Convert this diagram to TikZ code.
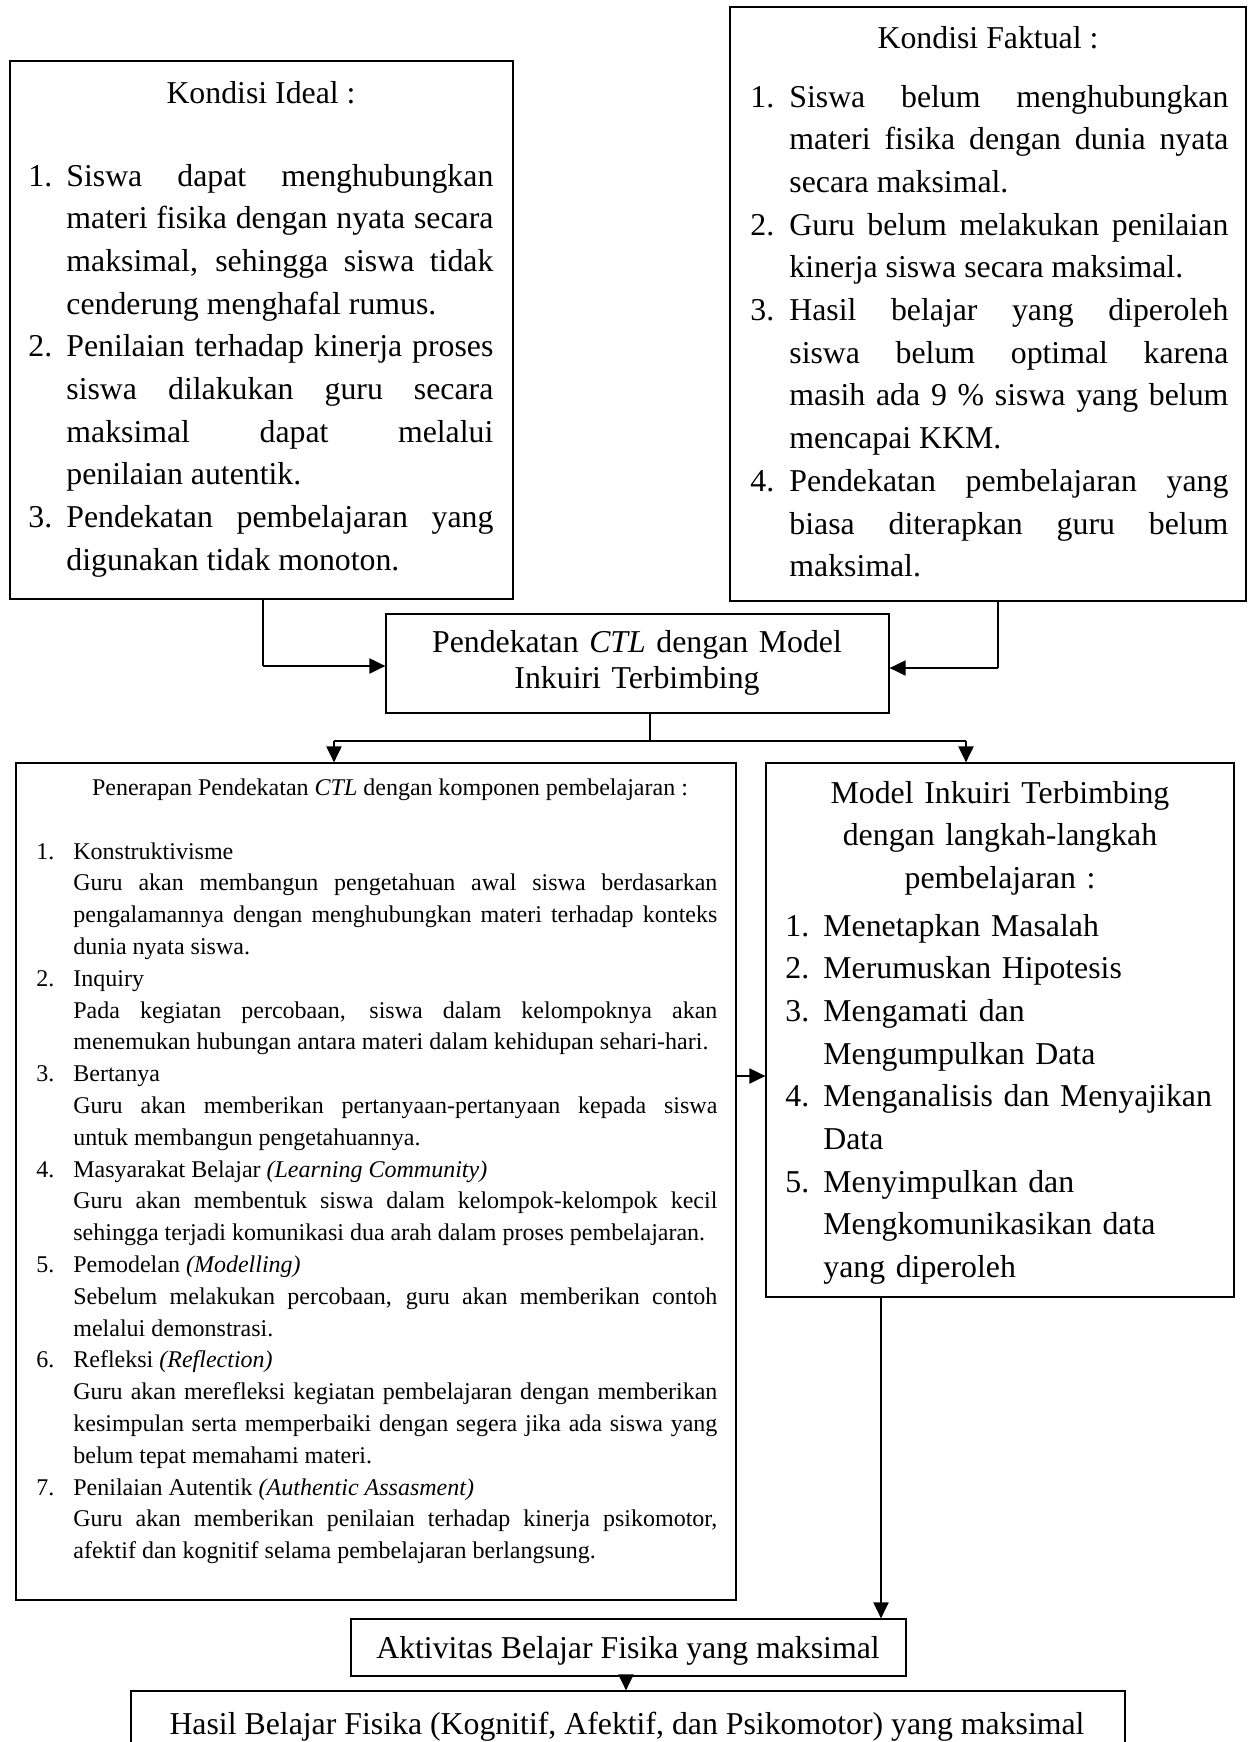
\documentclass[tikz,border=0pt]{standalone}
\usepackage{fontspec}
\setmainfont{Liberation Serif}
\usetikzlibrary{arrows.meta}

\newlength\numw
\newcommand{\firstli}[1]{\hangindent=\numw\hangafter=1\noindent\makebox[\numw][l]{#1}}
\newcommand{\li}[1]{\par\firstli{#1}}
\hyphenpenalty=10000
\exhyphenpenalty=10000
\tolerance=9999

\begin{document}
\begin{tikzpicture}[x=0.5pt, y=-0.5pt,
  box/.style={draw, line width=0.6pt, inner sep=0pt},
  big/.style={font=\fontsize{15.9}{21.35}\selectfont, inner sep=0pt},
  small/.style={font=\fontsize{12}{15.9}\selectfont, inner sep=0pt},
  link/.style={line width=0.6pt},
  bar/.style={line width=1pt},
  arr/.style={line width=1pt, -{Triangle[length=8pt,width=7.5pt]}}]
  \path[use as bounding box, fill=white] (0,0) rectangle (1248,1742);

  % boxes
  \node[box, minimum width=251.5pt, minimum height=269pt] (ideal) at (261.5,330) {};
  \node[box, minimum width=258pt, minimum height=297pt] (faktual) at (988,304) {};
  \node[box, minimum width=251.5pt, minimum height=49.5pt] (ctl) at (637.5,663.5) {};
  \node[box, minimum width=360pt, minimum height=418.5pt] (penerapan) at (376,1181.5) {};
  \node[box, minimum width=234pt, minimum height=267pt] (inkuiri) at (1000,1030) {};
  \node[box, minimum width=277.5pt, minimum height=28.5pt] (aktivitas) at (628.5,1647.5) {};
  \node[box, minimum width=497pt, minimum height=49pt] (hasil) at (628,1740) {};

  % texts
  \node[big, anchor=base] (idealT) at (261,103) {Kondisi Ideal :};
  \node[big, anchor=base west, text width=232.5pt, align=justify] (idealL) at (28,186) {%
    \setlength\numw{19pt}%
    \firstli{1.}Siswa dapat menghubungkan\linebreak materi fisika dengan nyata secara\linebreak maksimal, sehingga siswa tidak\linebreak cenderung menghafal rumus.
    \li{2.}Penilaian terhadap kinerja proses\linebreak siswa dilakukan guru secara\linebreak maksimal dapat melalui\linebreak penilaian autentik.
    \li{3.}Pendekatan pembelajaran yang\linebreak digunakan tidak monoton.\par};

  \node[big, anchor=base] (faktualT) at (988,48) {Kondisi Faktual :};
  \node[big, anchor=base west, text width=239pt, align=justify] (faktualL) at (750,107) {%
    \setlength\numw{19.5pt}%
    \firstli{1.}Siswa belum menghubungkan\linebreak materi fisika dengan dunia nyata\linebreak secara maksimal.
    \li{2.}Guru belum melakukan penilaian\linebreak kinerja siswa secara maksimal.
    \li{3.}Hasil belajar yang diperoleh\linebreak siswa belum optimal karena\linebreak masih ada 9 \% siswa yang belum\linebreak mencapai KKM.
    \li{4.}Pendekatan pembelajaran yang\linebreak biasa diterapkan guru belum\linebreak maksimal.\par};

  \node[big, font=\fontsize{15.9}{18}\selectfont, anchor=base, text width=240pt, align=center] (ctlT) at (637,652)
    {Pendekatan \textit{CTL} dengan Model\\Inkuiri Terbimbing};

  \node[small, anchor=base] (penerapanT) at (390,795)
    {Penerapan Pendekatan \textit{CTL} dengan komponen pembelajaran :};
  \node[small, anchor=base west, text width=340.5pt, align=justify] (penerapanL) at (36,859) {%
    \setlength\numw{18.5pt}%
    \firstli{1.}Konstruktivisme\newline Guru akan membangun pengetahuan awal siswa berdasarkan\linebreak pengalamannya dengan menghubungkan materi terhadap konteks\linebreak dunia nyata siswa.
    \li{2.}Inquiry\newline Pada kegiatan percobaan, siswa dalam kelompoknya akan\linebreak menemukan hubungan antara materi dalam kehidupan sehari-hari.
    \li{3.}Bertanya\newline Guru akan memberikan pertanyaan-pertanyaan kepada siswa\linebreak untuk membangun pengetahuannya.
    \li{4.}Masyarakat Belajar \textit{(Learning Community)}\newline Guru akan membentuk siswa dalam kelompok-kelompok kecil\linebreak sehingga terjadi komunikasi dua arah dalam proses pembelajaran.
    \li{5.}Pemodelan \textit{(Modelling)}\newline Sebelum melakukan percobaan, guru akan memberikan contoh\linebreak melalui demonstrasi.
    \li{6.}Refleksi \textit{(Reflection)}\newline Guru akan merefleksi kegiatan pembelajaran dengan memberikan\linebreak kesimpulan serta memperbaiki dengan segera jika ada siswa yang\linebreak belum tepat memahami materi.
    \li{7.}Penilaian Autentik \textit{(Authentic Assasment)}\newline Guru akan memberikan penilaian terhadap kinerja psikomotor,\linebreak afektif dan kognitif selama pembelajaran berlangsung.\par};

  \node[big, anchor=base, text width=220pt, align=center] (inkuiriT) at (1000,803)
    {Model Inkuiri Terbimbing\\dengan langkah-langkah\\pembelajaran :};
  \node[big, anchor=base west, text width=220pt, align=left] (inkuiriL) at (785,936) {%
    \setlength\numw{19pt}%
    \firstli{1.}Menetapkan Masalah
    \li{2.}Merumuskan Hipotesis
    \li{3.}Mengamati dan\newline Mengumpulkan Data
    \li{4.}Menganalisis dan Menyajikan\newline Data
    \li{5.}Menyimpulkan dan\newline Mengkomunikasikan data\newline yang diperoleh\par};

  \node[big, anchor=base] (aktivitasT) at (628,1658) {Aktivitas Belajar Fisika yang maksimal};
  \node[big, anchor=base] (hasilT) at (627,1734) {Hasil Belajar Fisika (Kognitif, Afektif, dan Psikomotor) yang maksimal};

  % connectors
  \coordinate (lj) at (263,666);
  \coordinate (rj) at (998,668);
  \coordinate (cj) at (650,741);
  \coordinate (lb) at (334,741);
  \coordinate (rb) at (966,741);
  \coordinate (mj) at (0,1076);
  \coordinate (dj) at (881,0);
  \draw[link] (ideal.south -| lj) -- (lj);
  \draw[arr] (lj) -- (ctl.west |- lj);
  \draw[link] (faktual.south -| rj) -- (rj);
  \draw[arr] (rj) -- (ctl.east |- rj);
  \draw[link] (ctl.south -| cj) -- (cj);
  \draw[bar] (lb) -- (rb);
  \draw[arr] (lb) -- (penerapan.north -| lb);
  \draw[arr] (rb) -- (inkuiri.north -| rb);
  \draw[arr] (penerapan.east |- mj) -- (inkuiri.west |- mj);
  \draw[arr] (inkuiri.south -| dj) -- (aktivitas.north -| dj);
  \draw[arr] (aktivitas.south -| 626,0) -- (hasil.north -| 626,0);
\end{tikzpicture}
\end{document}
